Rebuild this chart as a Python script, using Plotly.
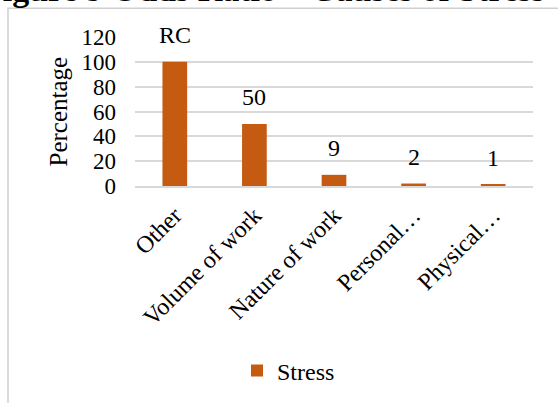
import plotly.graph_objects as go

# Causes of stress: odds ratios expressed as percentage, "Other" is the reference category
categories = ["Other", "Volume of work", "Nature of work", "Personal…", "Physical…"]
stress = [100, 50, 9, 2, 1]
bar_labels = ["RC", "50", "9", "2", "1"]
y_ticks = [0, 20, 40, 60, 80, 100, 120]

title_text = "Figure 9 Odds Ratio – Causes of Stress"
series_name = "Stress"
y_title = "Percentage"

SERIF = "Liberation Serif"
BAR_COLOR = "#C55A11"
GRID = "#D9D9D9"

W, H = 558, 403
L, R, T, B = 135, 25, 37, 216
plot_w = W - L - R
plot_h = H - T - B


def px_to_paper_x(px):
    return (px - L) / plot_w


def px_to_paper_y(py):
    return (H - B - py) / plot_h


fig = go.Figure()
fig.add_trace(go.Bar(
    x=categories,
    y=stress,
    name=series_name,
    marker=dict(color=BAR_COLOR, line=dict(width=0)),
    showlegend=True,
))

annotations = []
for cat, val, lab in zip(categories, stress, bar_labels):
    annotations.append(dict(
        x=cat, y=val, xref="x", yref="y",
        text=lab, showarrow=False,
        yanchor="bottom", yshift=12,
        font=dict(family=SERIF, size=24, color="#000000"),
    ))

# axis title
annotations.append(dict(
    x=px_to_paper_x(58), y=0.5, xref="paper", yref="paper",
    text=y_title, showarrow=False, textangle=-90,
    xanchor="center", yanchor="middle",
    font=dict(family=SERIF, size=25, color="#000000"),
))

# figure caption running off the top edge
annotations.append(dict(
    x=px_to_paper_x(-20), y=px_to_paper_y(10), xref="paper", yref="paper",
    text="<b>" + title_text + "</b>", showarrow=False,
    xanchor="left", yanchor="bottom",
    font=dict(family=SERIF, size=34, color="#000000"),
))

fig.update_layout(
    width=W, height=H,
    margin=dict(l=L, r=R, t=T, b=B, pad=0),
    paper_bgcolor="white",
    plot_bgcolor="white",
    bargap=0.69,
    font=dict(family=SERIF, size=24, color="#000000"),
    annotations=annotations,
    shapes=[dict(
        type="rect", xref="paper", yref="paper",
        x0=px_to_paper_x(8), x1=px_to_paper_x(W + 20),
        y0=px_to_paper_y(H + 20), y1=px_to_paper_y(8),
        line=dict(color="#D0D0D0", width=1.5),
        fillcolor="rgba(0,0,0,0)", layer="below",
    )],
    legend=dict(
        orientation="h",
        x=px_to_paper_x(237), y=px_to_paper_y(371),
        xanchor="left", yanchor="middle",
        font=dict(family=SERIF, size=24, color="#000000"),
        bgcolor="rgba(0,0,0,0)",
    ),
    xaxis=dict(
        tickangle=-45,
        showline=True, linecolor=GRID, linewidth=1.5,
        showgrid=False, ticks="",
        ticklabelstandoff=4,
        tickfont=dict(family=SERIF, size=24),
    ),
    yaxis=dict(
        range=[0, 120],
        tickvals=y_ticks,
        showgrid=True, gridcolor=GRID, gridwidth=1.5,
        zeroline=False, showline=False, ticks="",
        ticklabelstandoff=18,
        tickfont=dict(family=SERIF, size=23),
    ),
)

fig.write_html("out.html")
